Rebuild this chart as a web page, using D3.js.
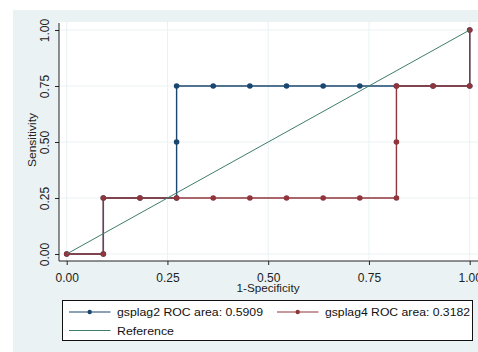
<!DOCTYPE html>
<html><head><meta charset="utf-8">
<script src="https://cdn.jsdelivr.net/npm/d3@7"></script>
<style>body{margin:0;background:#fff}svg{display:block;font-family:"Liberation Sans",Arial,sans-serif}</style>
</head><body>
<script>
const fpr2 = [0, 0.0909, 0.0909, 0.1818, 0.2727, 0.2727, 0.2727, 0.3636, 0.4545, 0.5455, 0.6364, 0.7273, 0.8182, 0.9091, 1, 1];
const tpr2 = [0, 0, 0.25, 0.25, 0.25, 0.5, 0.75, 0.75, 0.75, 0.75, 0.75, 0.75, 0.75, 0.75, 0.75, 1];
const fpr4 = [0, 0.0909, 0.0909, 0.1818, 0.2727, 0.3636, 0.4545, 0.5455, 0.6364, 0.7273, 0.8182, 0.8182, 0.8182, 0.9091, 1, 1];
const tpr4 = [0, 0, 0.25, 0.25, 0.25, 0.25, 0.25, 0.25, 0.25, 0.25, 0.25, 0.5, 0.75, 0.75, 0.75, 1];
const refX = [0, 1];
const refY = [0, 1];
const ticks = [0, 0.25, 0.5, 0.75, 1];
const tickLabels = ["0.00", "0.25", "0.50", "0.75", "1.00"];
const legendLabels = ["gsplag2 ROC area: 0.5909", "gsplag4 ROC area: 0.3182", "Reference"];
const colors = ["#1a476f", "#90353b", "#3f7d6d"];

const W = 478, H = 352;
const svg = d3.select("body").append("svg").attr("width", W).attr("height", H);
svg.append("rect").attr("x", 13).attr("y", 10).attr("width", W - 13).attr("height", H - 10).attr("fill", "#eaf2f3");
svg.append("rect").attr("x", 59).attr("y", 22).attr("width", W - 59).attr("height", 261 - 22).attr("fill", "#fff");

const x = d3.scaleLinear().domain([0, 1]).range([66.7, 469.7]);
const y = d3.scaleLinear().domain([0, 1]).range([254, 30]);

// gridlines
const g = svg.append("g");
ticks.forEach(t => {
  g.append("line").attr("x1", 59).attr("x2", W).attr("y1", y(t)).attr("y2", y(t)).attr("stroke", "#eaf2f3").attr("stroke-width", 1);
  g.append("line").attr("y1", 22).attr("y2", 261).attr("x1", x(t)).attr("x2", x(t)).attr("stroke", "#eaf2f3").attr("stroke-width", 1);
});

// axes
const yAxis = d3.axisLeft(y).tickValues(ticks).tickFormat((d, i) => tickLabels[i]).tickSize(4).tickSizeOuter(0);
const ya = svg.append("g").attr("transform", "translate(59,0)").call(yAxis);
ya.select(".domain").remove();
svg.append("line").attr("x1", 59).attr("x2", 59).attr("y1", 23).attr("y2", 261).attr("stroke", "#222");
ya.selectAll(".tick line").attr("stroke", "#222");
ya.selectAll(".tick text").attr("font-size", 12).attr("fill", "#222").attr("text-anchor", "middle")
  .attr("x", null).attr("dy", null).attr("transform", "translate(-10,0) rotate(-90)").attr("y", 0);

const xAxis = d3.axisBottom(x).tickValues(ticks).tickFormat((d, i) => tickLabels[i]).tickSize(4).tickSizeOuter(0);
const xa = svg.append("g").attr("transform", "translate(0,261)").call(xAxis);
xa.select(".domain").remove();
svg.append("line").attr("x1", 59).attr("x2", W).attr("y1", 261).attr("y2", 261).attr("stroke", "#222");
xa.selectAll(".tick line").attr("stroke", "#222");
xa.selectAll(".tick text").attr("font-size", 12).attr("fill", "#222").attr("dy", null).attr("y", 21);

svg.append("text").attr("x", 268).attr("y", 292).attr("text-anchor", "middle").attr("font-size", 11)
  .attr("textLength", 63).attr("lengthAdjust", "spacingAndGlyphs").attr("fill", "#222").text("1-Specificity");
svg.append("text").attr("transform", "translate(36,140) rotate(-90)").attr("text-anchor", "middle").attr("font-size", 11)
  .attr("textLength", 54).attr("lengthAdjust", "spacingAndGlyphs").attr("fill", "#222").text("Sensitivity");

const line = d3.line().x(d => x(d[0])).y(d => y(d[1]));
function series(fx, fy, col) {
  const pts = fx.map((v, i) => [v, fy[i]]);
  svg.append("path").attr("d", line(pts)).attr("fill", "none").attr("stroke", col).attr("stroke-width", 1.4);
  svg.append("g").selectAll("circle").data(pts).join("circle")
    .attr("cx", d => x(d[0])).attr("cy", d => y(d[1])).attr("r", 2.8).attr("fill", col);
}
series(fpr2, tpr2, colors[0]);
series(fpr4, tpr4, colors[1]);
svg.append("path").attr("d", line(refX.map((v, i) => [v, refY[i]]))).attr("fill", "none").attr("stroke", colors[2]).attr("stroke-width", 1);

// legend
const lg = svg.append("g");
lg.append("rect").attr("x", 62.5).attr("y", 300.5).attr("width", 410).attr("height", 40).attr("fill", "#fff").attr("stroke", "#111").attr("stroke-width", 1);
const items = [
  {lx: 69, ly: 312, tx: 117, ty: 316, w: 146, marker: true},
  {lx: 277, ly: 312, tx: 325, ty: 316, w: 145, marker: true},
  {lx: 69, ly: 330.5, tx: 117, ty: 334.5, w: 57, marker: false}
];
items.forEach((it, i) => {
  lg.append("line").attr("x1", it.lx).attr("x2", it.lx + 41.5).attr("y1", it.ly).attr("y2", it.ly).attr("stroke", colors[i]).attr("stroke-width", 1.2);
  if (it.marker) lg.append("circle").attr("cx", it.lx + 20.7).attr("cy", it.ly).attr("r", 2.2).attr("fill", colors[i]);
  lg.append("text").attr("x", it.tx).attr("y", it.ty).attr("font-size", 11).attr("textLength", it.w)
    .attr("lengthAdjust", "spacingAndGlyphs").attr("fill", "#111").text(legendLabels[i]);
});
</script>
</body></html>
